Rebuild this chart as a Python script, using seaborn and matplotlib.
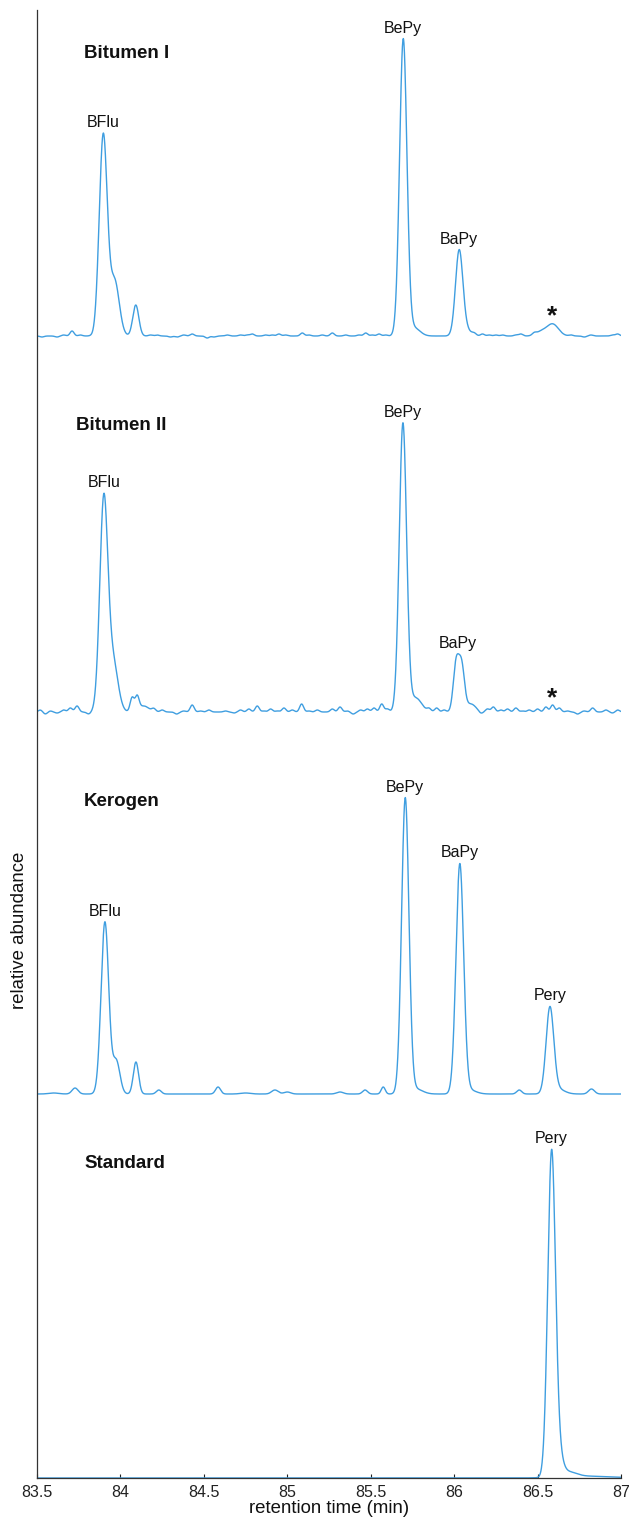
import numpy as np
import pandas as pd
import matplotlib
matplotlib.use("Agg")
import matplotlib.pyplot as plt
import seaborn as sns

# ---------------- data ----------------
sample_names = ["Bitumen I", "Bitumen II", "Kerogen", "Standard"]
# vertical stacking offsets of each trace (relative abundance units)
offsets = [1142, 766, 384, 0]

# main peak tables: retention time (min), height, width (sigma, min)
bit1_rt = [83.897, 83.965, 84.092, 85.695, 85.76, 86.03, 86.07, 86.52, 86.59]
bit1_h = [200, 55, 31, 296, 8, 84, 6, 4, 12]
bit1_w = [0.024, 0.028, 0.018, 0.022, 0.035, 0.022, 0.03, 0.03, 0.035]

bit2_rt = [83.90, 83.955, 84.07, 84.10, 84.14, 85.693, 85.77, 86.012, 86.045, 86.10]
bit2_h = [209, 50, 14, 14, 6, 288, 14, 48, 44, 8]
bit2_w = [0.024, 0.03, 0.012, 0.012, 0.03, 0.022, 0.035, 0.017, 0.017, 0.03]

ker_rt = [83.60, 83.728, 83.907, 83.975, 84.093, 84.23, 84.585, 84.75, 84.926, 85.00, 85.316,
          85.466, 85.575, 85.707, 85.77, 86.034, 86.09, 86.39, 86.574, 86.62, 86.823]
ker_h = [1, 6, 172, 33, 32, 4, 7, 1, 4, 2, 2,
         4, 7, 295, 5, 229, 4, 4, 85, 5, 5]
ker_w = [0.03, 0.018, 0.023, 0.022, 0.016, 0.015, 0.015, 0.03, 0.02, 0.02, 0.02,
         0.015, 0.012, 0.022, 0.04, 0.023, 0.04, 0.015, 0.023, 0.04, 0.018]

std_rt = [86.584, 86.625, 86.68, 86.80]
std_h = [322, 20, 5, 1.8]
std_w = [0.023, 0.025, 0.05, 0.15]

# small baseline fluctuations (retention time, height)
noise_w = 0.012
bit1_noise_rt = [83.53, 83.57, 83.62, 83.66, 83.71, 83.76, 83.80, 83.84,
                 84.18, 84.22, 84.26, 84.30, 84.34, 84.38, 84.43, 84.47, 84.52, 84.56, 84.60,
                 84.64, 84.68, 84.72, 84.76, 84.79, 84.83, 84.87, 84.91, 84.95, 84.99, 85.03,
                 85.09, 85.13, 85.17, 85.21, 85.27, 85.31, 85.35, 85.39, 85.43, 85.47, 85.51,
                 85.55, 85.59, 86.12, 86.17, 86.21, 86.25, 86.29, 86.33, 86.37, 86.40, 86.44,
                 86.48, 86.70, 86.74, 86.78, 86.82, 86.86, 86.90, 86.95, 86.98]
bit1_noise_h = [-1, 0, -1, 1, 5, 1, 0, -1,
                1, 1, 0, -1, -1, 1, 2, 0, -2, -1, 0,
                1, 0, 1, 1, 2, 0, 1, 1, 2, 1, 0,
                3, 1, 0, 1, 3, 0, 1, 0, 1, 3, 1,
                2, 1, 2, 2, 1, 1, 1, 0, 1, 2, 0,
                2, 1, 0, -1, 1, 0, 0, 1, 2]

bit2_noise_rt = [83.52, 83.55, 83.58, 83.62, 83.66, 83.70, 83.74, 83.78, 83.81,
                 84.20, 84.25, 84.30, 84.337, 84.38, 84.43, 84.48, 84.53, 84.58, 84.63, 84.68,
                 84.72, 84.77, 84.82, 84.86, 84.90, 84.94, 84.98, 85.03, 85.086, 85.13, 85.18,
                 85.22, 85.27, 85.316, 85.36, 85.395, 85.44, 85.48, 85.52, 85.566, 85.60,
                 85.85, 85.895, 85.94, 86.16, 86.20, 86.235, 86.28, 86.32, 86.37, 86.41, 86.45,
                 86.50, 86.55, 86.59, 86.63, 86.68, 86.74, 86.78, 86.83, 86.87, 86.91, 86.95,
                 86.98]
bit2_noise_h = [2, -2, 1, -1, 2, 4, 6, 0, -2,
                3, 2, 0, -2, 1, 7, 1, 2, 0, 1, -1,
                2, 3, 6, 1, 3, 1, 4, 2, 8, 1, 2,
                0, 3, 5, 1, -2, 2, 3, 4, 8, 3,
                3, 4, 2, -2, 3, 5, 2, 3, 4, 1, 2,
                3, 5, 7, 4, 1, -2, 1, 4, 0, 2, -1,
                2]

# labelled peaks per trace: (label, retention time)
bit1_labels = [("BFlu", 83.897), ("BePy", 85.695), ("BaPy", 86.03)]
bit2_labels = [("BFlu", 83.90), ("BePy", 85.693), ("BaPy", 86.02)]
ker_labels = [("BFlu", 83.907), ("BePy", 85.707), ("BaPy", 86.034), ("Pery", 86.574)]
std_labels = [("Pery", 86.584)]
star_rt = [86.59, 86.59]   # unidentified peak (*) in Bitumen I and II

x_ticks = [83.5, 84, 84.5, 85, 85.5, 86, 86.5, 87]
x_tick_labels = ["83.5", "84", "84.5", "85", "85.5", "86", "86.5", "87"]

# ---------------- build traces ----------------
rt_grid = np.linspace(83.5, 87.0, 3501)


def trace(rts, hs, ws):
    sig = np.zeros_like(rt_grid)
    for r, h, w in zip(rts, hs, ws):
        sig += h * np.exp(-0.5 * ((rt_grid - r) / w) ** 2)
    return sig


signals = [
    trace(bit1_rt, bit1_h, bit1_w) + trace(bit1_noise_rt, bit1_noise_h, [noise_w] * len(bit1_noise_rt)),
    trace(bit2_rt, bit2_h, bit2_w) + trace(bit2_noise_rt, bit2_noise_h, [noise_w] * len(bit2_noise_rt)),
    trace(ker_rt, ker_h, ker_w),
    trace(std_rt, std_h, std_w),
]
frames = []
for name, off, sig in zip(sample_names, offsets, signals):
    frames.append(pd.DataFrame({"rt": rt_grid, "signal": sig + off, "sample": name}))
df = pd.concat(frames, ignore_index=True)

# ---------------- plot ----------------
sns.set_style("ticks")
plt.rcParams["font.family"] = ["Liberation Sans", "DejaVu Sans"]

W, H = 629, 1519
fig = plt.figure(figsize=(W / 100, H / 100), dpi=100)
ax = fig.add_axes([37 / W, (H - 1478) / H, (621 - 37) / W, (1478 - 10) / H])

line_color = "#3f9ee0"
for name in sample_names:
    sns.lineplot(data=df[df["sample"] == name], x="rt", y="signal", ax=ax,
                 color=line_color, linewidth=1.0, estimator=None, sort=False)

ax.set_xlim(83.5, 87)
ax.set_ylim(0, 1468)
ax.set_xticks(x_ticks)
ax.set_xticklabels(x_tick_labels)
ax.set_yticks([])
ax.tick_params(axis="x", direction="in", length=3, width=0.8, labelsize=11.5, pad=5,
               colors="#222222")
for s in ["top", "right"]:
    ax.spines[s].set_visible(False)
for s in ["left", "bottom"]:
    ax.spines[s].set_linewidth(0.9)
    ax.spines[s].set_color("#333333")

ax.set_xlabel("retention time (min)", fontsize=13.4, labelpad=0, color="#111111")
ax.set_ylabel("relative abundance", fontsize=13.4, color="#111111")
ax.yaxis.set_label_coords(-0.016, 0.373)

# sample titles (x in axes fraction, y in data units)
title_pos = [(0.0805, 1425), (0.0668, 1053), (0.0805, 676), (0.0805, 315)]
for name, (tx, ty) in zip(sample_names, title_pos):
    ax.text(tx, ty, name, fontsize=13.5, fontweight="bold", ha="left", va="center",
            color="#111111", transform=ax.get_yaxis_transform())

# peak labels
all_labels = [bit1_labels, bit2_labels, ker_labels, std_labels]
for labels, sig, off in zip(all_labels, signals, offsets):
    for lab, r in labels:
        m = np.abs(rt_grid - r) < 0.03
        tip = sig[m].max() + off
        ax.annotate(lab, xy=(r, tip), xytext=(0, 6), textcoords="offset pixels",
                    ha="center", va="baseline", fontsize=11.5, color="#111111")

for r, sig, off in zip(star_rt, signals[:2], offsets[:2]):
    m = np.abs(rt_grid - r) < 0.03
    tip = sig[m].max() + off
    ax.annotate("*", xy=(r, tip), xytext=(0, -5), textcoords="offset pixels",
                ha="center", va="bottom", fontsize=19, fontweight="bold", color="#111111")

fig.savefig("out.png", dpi=100)
